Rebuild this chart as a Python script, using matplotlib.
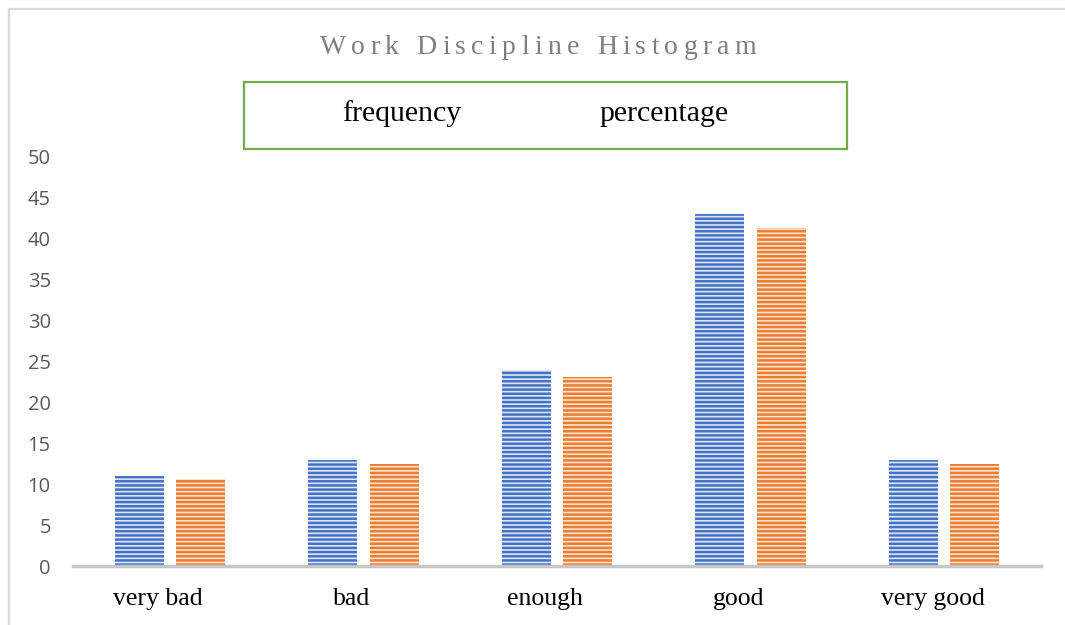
import numpy as np
import matplotlib
matplotlib.use("Agg")
import matplotlib.pyplot as plt
from matplotlib.patches import Rectangle
from matplotlib.lines import Line2D

categories = ["very bad", "bad", "enough", "good", "very good"]
frequency = [11, 13, 24, 43, 13]
percentage = [10.58, 12.5, 23.08, 41.35, 12.5]
yticks = [0, 5, 10, 15, 20, 25, 30, 35, 40, 45, 50]

plt.rcParams['hatch.linewidth'] = 1.8

fig = plt.figure(figsize=(10.65, 6.25), dpi=100)
W, H = 1065, 625

ax = fig.add_axes([73 / W, 1 - 566 / H, (1041 - 73) / W, (566 - 157) / H])

x = np.arange(len(categories))
bw = 0.253
off = 0.159
ax.bar(x - off, frequency, bw, facecolor='#dde6f6', edgecolor='#4472c4',
       linewidth=0, hatch='----', label='frequency')
ax.bar(x + off, percentage, bw, facecolor='#fde3d2', edgecolor='#ed7d31',
       linewidth=0, hatch='----', label='percentage')

ax.set_xlim(-0.5, len(categories) - 0.5)
ax.set_ylim(0, 50)
ax.set_yticks(yticks)
ax.set_yticklabels([str(v) for v in yticks], fontfamily='Open Sans',
                   fontsize=14.5, color='#595959')
# labels sit a little left of the bar groups in the original
ax.set_xticks(x - 0.06)
ax.set_xticklabels(categories, fontfamily='Liberation Serif', fontsize=18.5,
                   color='black')
ax.tick_params(axis='both', length=0)
ax.tick_params(axis='y', pad=16)
ax.tick_params(axis='x', pad=16)
for s in ['top', 'right', 'left']:
    ax.spines[s].set_visible(False)
ax.spines['bottom'].set_color('#c6c6c6')
ax.spines['bottom'].set_linewidth(2.5)

# figure border (top and left only visible)
fig.add_artist(Line2D([9 / W, 9 / W], [0, 1 - 9 / H], transform=fig.transFigure,
                      color='#d9d9d9', lw=1.6))
fig.add_artist(Line2D([9 / W, 1], [1 - 9 / H, 1 - 9 / H], transform=fig.transFigure,
                      color='#d9d9d9', lw=1.6))

# letter-spaced title
title = "Work Discipline Histogram"
renderer = fig.canvas.get_renderer()
track = 5.3
tsize = 20
widths = []
for ch in title:
    t = fig.text(0, 0, ch if ch != ' ' else 'a', fontfamily='Liberation Serif', fontsize=tsize)
    w = t.get_window_extent(renderer).width
    if ch == ' ':
        w = w * 0.6
    widths.append(w)
    t.remove()
total = sum(widths) + track * (len(title) - 1)
xpos = 538 - total / 2
for ch, w in zip(title, widths):
    if ch != ' ':
        fig.text(xpos / W, 1 - 54 / H, ch, fontfamily='Liberation Serif',
                 fontsize=tsize, color='#7f7f7f', ha='left', va='baseline')
    xpos += w + track

# legend box
fig.add_artist(Rectangle((244 / W, 1 - 149 / H), (847 - 244) / W, (149 - 82) / H,
                         transform=fig.transFigure, fill=False,
                         edgecolor='#70ad47', lw=1.6))
fig.text(402 / W, 1 - 114 / H, "frequency", fontfamily='Liberation Serif',
         fontsize=21.5, ha='center', va='center')
fig.text(664 / W, 1 - 114 / H, "percentage", fontfamily='Liberation Serif',
         fontsize=21.5, ha='center', va='center')

fig.savefig("out.png", dpi=100)
